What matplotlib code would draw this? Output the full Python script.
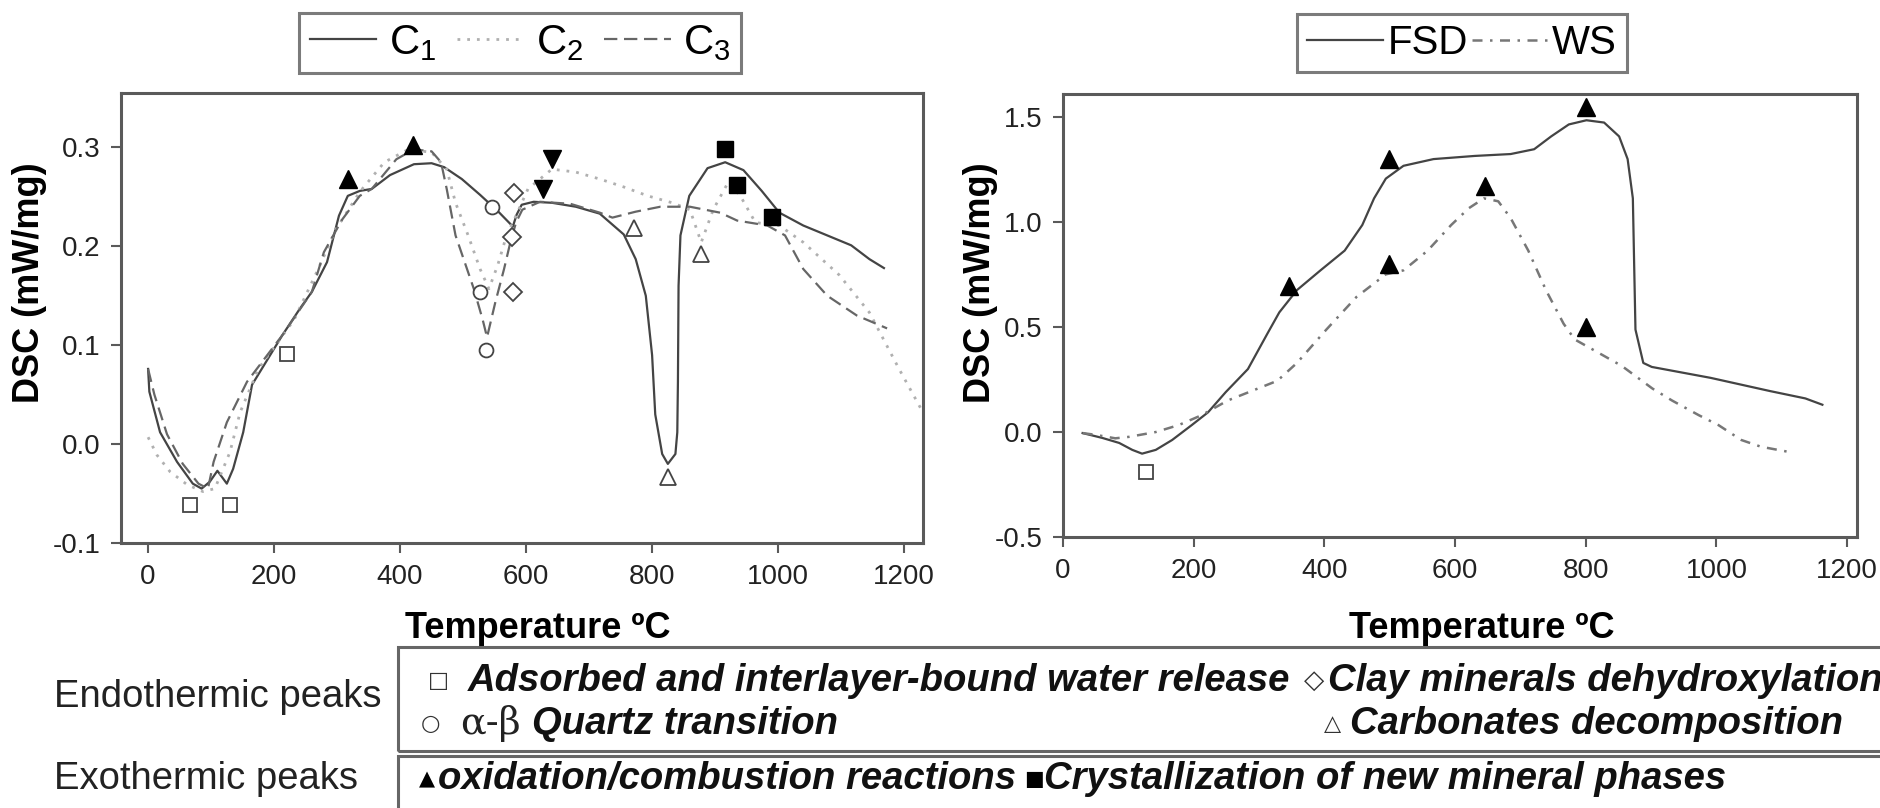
import numpy as np
import matplotlib
matplotlib.use("Agg")
import matplotlib.pyplot as plt
from matplotlib.patches import Rectangle

plt.rcParams['font.family'] = ['Liberation Sans', 'DejaVu Sans']
plt.rcParams['mathtext.default'] = 'regular'

# ---- left panel: C1, C2, C3 (temperature, DSC) ----
c1_t = [0, 2, 19, 46, 71, 85, 98, 110, 125, 135, 151, 165, 213, 241, 260, 284, 303, 317, 336, 355,
        384, 422, 450, 470, 498, 527, 556, 579, 585, 593, 612, 641, 679, 717, 755, 774, 790, 800, 805,
        816, 825, 837, 840, 841, 842, 845, 859, 888, 916, 945, 974, 1002, 1040, 1078, 1116, 1145, 1168]
c1_v = [0.076, 0.053, 0.012, -0.018, -0.040, -0.045, -0.038, -0.027, -0.040, -0.025, 0.012, 0.060,
        0.110, 0.137, 0.154, 0.184, 0.231, 0.251, 0.256, 0.258, 0.272, 0.283, 0.284, 0.280, 0.268,
        0.252, 0.235, 0.220, 0.232, 0.242, 0.245, 0.244, 0.240, 0.233, 0.212, 0.187, 0.150, 0.090,
        0.030, -0.010, -0.020, -0.010, 0.012, 0.063, 0.160, 0.211, 0.251, 0.279, 0.285, 0.277, 0.256,
        0.234, 0.221, 0.211, 0.201, 0.187, 0.178]

c2_t = [0, 14, 35, 62, 87, 106, 130, 146, 175, 232, 270, 298, 336, 375, 413, 450, 474, 488, 508, 527,
        541, 555, 569, 584, 603, 641, 679, 717, 755, 793, 832, 860, 878, 897, 921, 940, 964, 1002,
        1040, 1097, 1145, 1192, 1230]
c2_v = [0.007, -0.011, -0.028, -0.041, -0.048, -0.045, -0.008, 0.032, 0.076, 0.126, 0.177, 0.217,
        0.255, 0.285, 0.298, 0.295, 0.278, 0.244, 0.211, 0.177, 0.157, 0.181, 0.211, 0.231, 0.258,
        0.278, 0.275, 0.268, 0.260, 0.251, 0.244, 0.237, 0.204, 0.237, 0.265, 0.251, 0.224, 0.221,
        0.204, 0.171, 0.133, 0.076, 0.032]

c3_t = [0, 10, 30, 55, 80, 95, 104, 125, 157, 213, 260, 279, 308, 336, 355, 394, 422, 450, 465, 474,
        488, 517, 531, 538, 551, 565, 575, 584, 594, 622, 670, 717, 737, 774, 813, 860, 908, 935, 983,
        1011, 1040, 1078, 1125, 1173]
c3_v = [0.076, 0.050, 0.010, -0.020, -0.040, -0.045, -0.018, 0.022, 0.063, 0.110, 0.154, 0.194,
        0.227, 0.251, 0.258, 0.288, 0.298, 0.296, 0.285, 0.258, 0.211, 0.157, 0.126, 0.108, 0.143,
        0.177, 0.204, 0.224, 0.237, 0.245, 0.243, 0.234, 0.229, 0.235, 0.240, 0.240, 0.234, 0.226,
        0.221, 0.211, 0.177, 0.150, 0.130, 0.117]

# peak markers, left panel
water_t, water_v = [67, 130, 221], [-0.062, -0.062, 0.091]
quartz_t, quartz_v = [546, 527, 536], [0.240, 0.154, 0.095]
clay_t, clay_v = [581, 577, 579], [0.254, 0.209, 0.154]
carb_t, carb_v = [772, 878, 826], [0.218, 0.192, -0.033]
oxid_t, oxid_v = [318, 420], [0.268, 0.302]
down_t, down_v = [641, 627], [0.288, 0.258]
cryst_t, cryst_v = [916, 935, 990], [0.298, 0.262, 0.230]

# ---- right panel: FSD, WS ----
fsd_t = [30, 60, 86, 106, 121, 142, 167, 197, 222, 249, 283, 313, 331, 358, 394, 431, 458, 476, 494,
         521, 567, 630, 685, 721, 747, 774, 801, 828, 851, 864, 872, 874, 876, 888, 901, 991, 1082,
         1136, 1162]
fsd_v = [-0.005, -0.028, -0.052, -0.085, -0.103, -0.085, -0.038, 0.033, 0.094, 0.190, 0.300, 0.470,
         0.570, 0.676, 0.770, 0.864, 0.986, 1.113, 1.207, 1.268, 1.300, 1.315, 1.324, 1.347, 1.408,
         1.465, 1.485, 1.474, 1.408, 1.300, 1.113, 0.798, 0.488, 0.329, 0.310, 0.258, 0.195, 0.160,
         0.130]

ws_t = [30, 51, 80, 101, 142, 177, 212, 252, 328, 358, 403, 449, 494, 521, 558, 594, 621, 644, 666,
        685, 712, 739, 766, 783, 810, 855, 902, 932, 973, 1003, 1038, 1068, 1118]
ws_v = [-0.005, -0.014, -0.030, -0.023, 0.0, 0.033, 0.080, 0.150, 0.244, 0.329, 0.488, 0.643, 0.751,
        0.770, 0.864, 0.986, 1.066, 1.113, 1.099, 1.019, 0.864, 0.676, 0.516, 0.441, 0.394, 0.315,
        0.207, 0.150, 0.080, 0.033, -0.038, -0.070, -0.099]

r_water_t, r_water_v = [127], [-0.19]
r_oxid_t = [346, 499, 499, 645, 801, 801]
r_oxid_v = [0.695, 1.30, 0.80, 1.17, 1.55, 0.50]

x_ticks = [0, 200, 400, 600, 800, 1000, 1200]
left_yticks = [-0.1, 0.0, 0.1, 0.2, 0.3]
right_yticks = [-0.5, 0.0, 0.5, 1.0, 1.5]

W, H = 1881, 808
def fx(px):
    return px / W
def fy(py):
    return 1 - py / H

spine_c = '#5a5a5a'
fig = plt.figure(figsize=(W / 100, H / 100), dpi=100)
ax1 = fig.add_axes([fx(121), fy(543), (923 - 121) / W, (543 - 93) / H])
ax2 = fig.add_axes([fx(1063), fy(537), (1857 - 1063) / W, (537 - 94) / H])

l1, = ax1.plot(c1_t, c1_v, color='#444444', lw=1.6, ls='-')
l2, = ax1.plot(c2_t, c2_v, color='#b0b0b0', lw=2.0, ls=(0, (1, 2.5)))
l3, = ax1.plot(c3_t, c3_v, color='#666666', lw=1.6, ls=(0, (6, 3)))

open_kw = dict(ls='none', mfc='white', mec='#444444', mew=1.3, zorder=5)
fill_kw = dict(ls='none', color='black', zorder=5)
ax1.plot(water_t, water_v, marker='s', ms=10, **open_kw)
ax1.plot(quartz_t, quartz_v, marker='o', ms=10, **open_kw)
ax1.plot(clay_t, clay_v, marker='D', ms=9, **open_kw)
ax1.plot(carb_t, carb_v, marker='^', ms=11, **open_kw)
ax1.plot(oxid_t, oxid_v, marker='^', ms=13, **fill_kw)
ax1.plot(down_t, down_v, marker='v', ms=13, **fill_kw)
ax1.plot(cryst_t, cryst_v, marker='s', ms=11, **fill_kw)

ax1.set_xlim(-43, 1230)
ax1.set_ylim(-0.1, 0.355)
ax1.set_yticks(left_yticks)
ax1.set_yticklabels(['%.1f' % v for v in left_yticks])

f1, = ax2.plot(fsd_t, fsd_v, color='#444444', lw=1.6, ls='-')
f2, = ax2.plot(ws_t, ws_v, color='#777777', lw=1.8, ls=(0, (4, 3, 1, 3)))
ax2.plot(r_water_t, r_water_v, marker='s', ms=10, **open_kw)
ax2.plot(r_oxid_t, r_oxid_v, marker='^', ms=13, **fill_kw)
ax2.set_xlim(0, 1215)
ax2.set_ylim(-0.47, 1.61)
ax2.set_yticks(right_yticks)
ax2.set_yticklabels(['%.1f' % v for v in right_yticks])

for ax in (ax1, ax2):
    ax.set_xticks(x_ticks)
    for s in ax.spines.values():
        s.set_color(spine_c)
        s.set_linewidth(2.2)
    ax.tick_params(direction='out', length=7, width=1.5, color=spine_c,
                   labelsize=20, labelcolor='#222222', pad=8)
    ax.set_ylabel('DSC (mW/mg)', fontsize=26, fontweight='bold')
    ax.set_xlabel('Temperature ºC', fontsize=26, fontweight='bold')

ax1.yaxis.set_label_coords(-0.092, 0.578)
ax1.xaxis.set_label_coords(0.52, -0.15)
ax2.yaxis.set_label_coords(-0.082, 0.573)
ax2.xaxis.set_label_coords(0.528, -0.168)

leg_kw = dict(loc='center', frameon=True, fancybox=False, ncol=3, borderpad=0.25)
lg1 = fig.legend([l1, l2, l3], ['C$_1$', 'C$_2$', 'C$_3$'], bbox_to_anchor=(fx(520), fy(43)),
                 fontsize=30, handlelength=1.6, handletextpad=0.3, columnspacing=0.5, **leg_kw)
lg2 = fig.legend([f1, f2], ['FSD', 'WS'], bbox_to_anchor=(fx(1462), fy(43)),
                 fontsize=29, handlelength=1.9, handletextpad=0.1, columnspacing=0.1, **leg_kw)
for lg in (lg1, lg2):
    lg.get_frame().set_edgecolor(spine_c)
    lg.get_frame().set_linewidth(2.2)

# ---- bottom key ----
fig.add_artist(Rectangle((fx(398), fy(751)), 1.0, (751 - 647) / H, transform=fig.transFigure,
                         fill=False, edgecolor='#666666', lw=2.2, clip_on=False))
fig.add_artist(Rectangle((fx(398), fy(830)), 1.0, (830 - 756) / H, transform=fig.transFigure,
                         fill=False, edgecolor='#666666', lw=2.2, clip_on=False))

key_font = 27.5
bi = dict(fontsize=key_font, fontweight='bold', fontstyle='italic', va='center', color='#111111')
sym = dict(family='DejaVu Sans', va='center', ha='center', color='#333333')
fig.text(fx(54), fy(697), 'Endothermic peaks', fontsize=key_font, va='center', color='#222222')
fig.text(fx(54), fy(779), 'Exothermic peaks', fontsize=key_font, va='center', color='#222222')

fig.text(fx(438), fy(681), '□', fontsize=16, **sym)
fig.text(fx(468), fy(681), 'Adsorbed and interlayer-bound water release', **bi)
fig.text(fx(1314), fy(681), '◇', fontsize=19, **sym)
fig.text(fx(1328), fy(681), 'Clay minerals dehydroxylation', **bi)

fig.text(fx(430), fy(724), '○', fontsize=16, **sym)
fig.text(fx(460), fy(724), 'α-β', fontsize=key_font, family='DejaVu Serif', va='center', color='#222222')
fig.text(fx(532), fy(724), 'Quartz transition', **bi)
fig.text(fx(1332), fy(724), '△', fontsize=16, **sym)
fig.text(fx(1350), fy(724), 'Carbonates decomposition', **bi)

fig.text(fx(427), fy(779), '▲', fontsize=15, family='DejaVu Sans', va='center', ha='center', color='black')
fig.text(fx(438), fy(779), 'oxidation/combustion reactions', **bi)
fig.text(fx(1034), fy(779), '■', fontsize=15, family='DejaVu Sans', va='center', ha='center', color='black')
fig.text(fx(1044), fy(779), 'Crystallization of new mineral phases', **bi)

fig.savefig('out.png', dpi=100)
